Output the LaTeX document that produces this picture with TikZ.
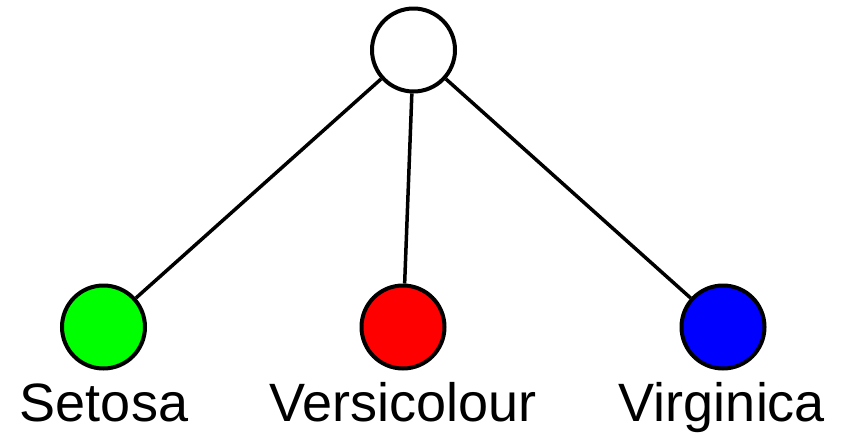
\documentclass[tikz,border=0pt]{standalone}
\usepackage{fontspec}
\setmainfont{Liberation Sans}
\begin{document}
\begin{tikzpicture}[x=1pt,y=-1pt,
  class/.style={circle,draw=black,line width=4pt,minimum size=83pt,inner sep=0pt},
  lbl/.style={anchor=base,inner sep=0pt,font=\fontsize{54}{60}\selectfont},
  edge/.style={line width=3.5pt}]
\useasboundingbox (0,0) rectangle (851,437);
\node[class,fill=white] (root) at (413.5,50) {};
\node[class,fill={rgb,255:red,0;green,255;blue,0}] (setosa) at (103.5,327) {};
\node[class,fill={rgb,255:red,255;green,0;blue,0}] (versi) at (403,327) {};
\node[class,fill={rgb,255:red,0;green,0;blue,255}] (virg) at (723,327) {};
\node[lbl] (tsetosa) at (104,421) {Setosa};
\node[lbl] (tversi) at (403,421) {Versicolour};
\node[lbl] (tvirg) at (722,421) {Virginica};
\draw[edge] (root) -- (setosa);
\draw[edge] (root) -- (versi);
\draw[edge] (root) -- (virg);
\end{tikzpicture}
\end{document}
